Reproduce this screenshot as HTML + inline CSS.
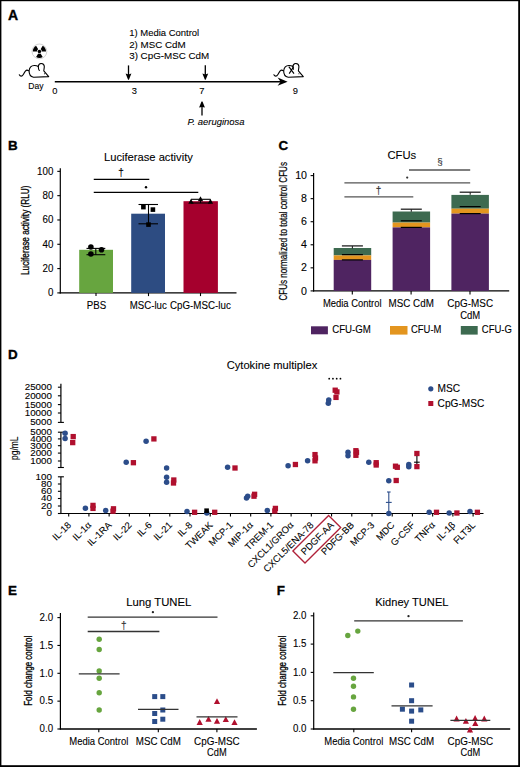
<!DOCTYPE html>
<html><head><meta charset="utf-8"><style>
html,body{margin:0;padding:0;background:#fff;}
svg{display:block;font-family:"Liberation Sans", sans-serif;}

</style></head><body>
<svg width="520" height="767" viewBox="0 0 520 767">
<rect x="0.00" y="0.00" width="520.00" height="767.00" fill="#fff" />
<rect x="0.00" y="0.00" width="1.40" height="767.00" fill="#000" />
<rect x="0.00" y="0.00" width="520.00" height="1.20" fill="#000" />
<rect x="518.20" y="0.00" width="1.80" height="767.00" fill="#000" />
<rect x="0.00" y="765.20" width="520.00" height="1.80" fill="#000" />
<text x="8.00" y="20.00" font-size="14" text-anchor="start" font-weight="bold" stroke="#000" stroke-width="0.35" >A</text>
<circle cx="39.4" cy="51.4" r="7.4" fill="#fff" stroke="#c8c8c8" stroke-width="0.8"/>
<path d="M41.80 51.40 L46.00 51.40 A6.6 6.6 0 0 0 42.70 45.68 L40.60 49.32 A2.4 2.4 0 0 1 41.80 51.40 Z M38.20 49.32 L36.10 45.68 A6.6 6.6 0 0 0 32.80 51.40 L37.00 51.40 A2.4 2.4 0 0 1 38.20 49.32 Z M38.20 53.48 L36.10 57.12 A6.6 6.6 0 0 0 42.70 57.12 L40.60 53.48 A2.4 2.4 0 0 1 38.20 53.48 Z" fill="#000"/>
<circle cx="39.40" cy="51.40" r="1.75" fill="#000"/>
<path d="M19.3 74.7 C20.2 76.5 22 76.8 23.3 74.5 C24.5 72.3 25.5 70 27 70.1 C28 70.2 28.6 70.6 29.1 70.8" fill="none" stroke="#000" stroke-width="1.1" stroke-linecap="round"/><path d="M29.1 70.8 C29.5 67.5 31.5 65.6 34.2 65.5 C36 65.4 37.3 65.9 38.3 66.5 C38.5 64.5 40 63.4 41.3 63.5 C43 63.6 44.3 64.8 44.3 66.6 C44.3 68.3 43.8 69.8 43.8 70.8 L48.7 76.6 L33.6 77.3 C30.8 76.8 29 74.2 29.1 70.8 Z" fill="#fff" stroke="#000" stroke-width="1.1" stroke-linejoin="round"/><path d="M38.3 66.5 C38.3 68.2 38.6 69.6 39.3 70.5" fill="none" stroke="#000" stroke-width="1.1" stroke-linecap="round"/>
<circle cx="44.50" cy="73.70" r="0.55" fill="#000"/>
<text x="28.30" y="89.00" font-size="8.55" text-anchor="start" stroke="#000" stroke-width="0.1" textLength="15.20" lengthAdjust="spacingAndGlyphs" >Day</text>
<line x1="54.80" y1="81.70" x2="281.00" y2="81.70" stroke="#000" stroke-width="1.5" />
<path d="M287.6 81.7 L277.6 77.6 L280.6 81.7 L277.6 85.8 Z" fill="#000"/>
<text x="54.90" y="93.60" font-size="9.6" text-anchor="middle" stroke="#000" stroke-width="0.1" textLength="5.20" lengthAdjust="spacingAndGlyphs" >0</text>
<text x="134.40" y="93.60" font-size="9.6" text-anchor="middle" stroke="#000" stroke-width="0.1" textLength="5.20" lengthAdjust="spacingAndGlyphs" >3</text>
<text x="201.80" y="93.60" font-size="9.6" text-anchor="middle" stroke="#000" stroke-width="0.1" textLength="5.20" lengthAdjust="spacingAndGlyphs" >7</text>
<text x="295.30" y="93.60" font-size="9.6" text-anchor="middle" stroke="#000" stroke-width="0.1" textLength="5.20" lengthAdjust="spacingAndGlyphs" >9</text>
<line x1="128.50" y1="65.40" x2="128.50" y2="76.80" stroke="#000" stroke-width="1.3" />
<path d="M125.60 73.60 L128.10 79.80 L128.90 79.80 L131.40 73.60 L128.50 74.50 Z" fill="#000"/>
<line x1="205.30" y1="65.30" x2="205.30" y2="76.70" stroke="#000" stroke-width="1.3" />
<path d="M202.40 73.50 L204.90 79.70 L205.70 79.70 L208.20 73.50 L205.30 74.40 Z" fill="#000"/>
<line x1="202.00" y1="115.60" x2="202.00" y2="104.40" stroke="#000" stroke-width="1.3" />
<path d="M199.10 107.60 L201.50 101.40 L202.50 101.40 L204.90 107.60 L202.00 107.00 Z" fill="#000"/>
<text x="129.20" y="36.30" font-size="9.9" text-anchor="start" stroke="#000" stroke-width="0.1" textLength="70.00" lengthAdjust="spacingAndGlyphs" >1) Media Control</text>
<text x="129.20" y="47.55" font-size="9.9" text-anchor="start" stroke="#000" stroke-width="0.1" textLength="56.40" lengthAdjust="spacingAndGlyphs" >2) MSC CdM</text>
<text x="129.20" y="58.80" font-size="9.9" text-anchor="start" stroke="#000" stroke-width="0.1" textLength="80.00" lengthAdjust="spacingAndGlyphs" >3) CpG-MSC CdM</text>
<text x="187.50" y="124.50" font-size="9.43" text-anchor="start" stroke="#000" stroke-width="0.1" font-style="italic" textLength="57.00" lengthAdjust="spacingAndGlyphs" >P. aeruginosa</text>
<g transform="translate(254.6 0)"><path d="M19.3 74.7 C20.2 76.5 22 76.8 23.3 74.5 C24.5 72.3 25.5 70 27 70.1 C28 70.2 28.6 70.6 29.1 70.8" fill="none" stroke="#000" stroke-width="1.1" stroke-linecap="round"/><path d="M29.1 70.8 C29.5 67.5 31.5 65.6 34.2 65.5 C36 65.4 37.3 65.9 38.3 66.5 C38.5 64.5 40 63.4 41.3 63.5 C43 63.6 44.3 64.8 44.3 66.6 C44.3 68.3 43.8 69.8 43.8 70.8 L48.7 76.6 L33.6 77.3 C30.8 76.8 29 74.2 29.1 70.8 Z" fill="#fff" stroke="#000" stroke-width="1.1" stroke-linejoin="round"/><path d="M38.3 66.5 C38.3 67.5 38.5 68.5 38.9 69.2" fill="none" stroke="#000" stroke-width="1.1" stroke-linecap="round"/></g>
<path d="M288.8 66.6 L294.0 73.6 M293.6 66.8 L289.2 73.6" stroke="#000" stroke-width="1.15" fill="none"/>
<circle cx="298.90" cy="73.70" r="0.55" fill="#000"/>
<text x="8.00" y="150.30" font-size="13.4" text-anchor="start" font-weight="bold" stroke="#000" stroke-width="0.35" >B</text>
<text x="148.40" y="161.00" font-size="11.7" text-anchor="middle" stroke="#000" stroke-width="0.1" textLength="88.90" lengthAdjust="spacingAndGlyphs" >Luciferase activity</text>
<line x1="60.30" y1="168.20" x2="60.30" y2="293.40" stroke="#000" stroke-width="1.2" />
<line x1="59.70" y1="292.90" x2="236.50" y2="292.90" stroke="#000" stroke-width="1.2" />
<line x1="57.30" y1="292.90" x2="60.30" y2="292.90" stroke="#000" stroke-width="1.1" />
<text x="53.40" y="296.30" font-size="10.4" text-anchor="end" stroke="#000" stroke-width="0.1" textLength="5.43" lengthAdjust="spacingAndGlyphs" >0</text>
<line x1="57.30" y1="268.59" x2="60.30" y2="268.59" stroke="#000" stroke-width="1.1" />
<text x="53.40" y="271.99" font-size="10.4" text-anchor="end" stroke="#000" stroke-width="0.1" textLength="10.86" lengthAdjust="spacingAndGlyphs" >20</text>
<line x1="57.30" y1="244.28" x2="60.30" y2="244.28" stroke="#000" stroke-width="1.1" />
<text x="53.40" y="247.68" font-size="10.4" text-anchor="end" stroke="#000" stroke-width="0.1" textLength="10.86" lengthAdjust="spacingAndGlyphs" >40</text>
<line x1="57.30" y1="219.97" x2="60.30" y2="219.97" stroke="#000" stroke-width="1.1" />
<text x="53.40" y="223.37" font-size="10.4" text-anchor="end" stroke="#000" stroke-width="0.1" textLength="10.86" lengthAdjust="spacingAndGlyphs" >60</text>
<line x1="57.30" y1="195.66" x2="60.30" y2="195.66" stroke="#000" stroke-width="1.1" />
<text x="53.40" y="199.06" font-size="10.4" text-anchor="end" stroke="#000" stroke-width="0.1" textLength="10.86" lengthAdjust="spacingAndGlyphs" >80</text>
<line x1="57.30" y1="171.35" x2="60.30" y2="171.35" stroke="#000" stroke-width="1.1" />
<text x="53.40" y="174.75" font-size="10.4" text-anchor="end" stroke="#000" stroke-width="0.1" textLength="16.29" lengthAdjust="spacingAndGlyphs" >100</text>
<text x="28.90" y="230.30" font-size="10.3" text-anchor="middle" stroke="#000" stroke-width="0.3" textLength="89.40" lengthAdjust="spacingAndGlyphs" transform="rotate(-90 28.90 230.30)" >Luciferase activity (RLU)</text>
<rect x="79.20" y="249.80" width="33.80" height="43.10" fill="#67a53f" />
<rect x="131.20" y="213.70" width="33.80" height="79.20" fill="#2d4c82" />
<rect x="183.50" y="201.20" width="34.40" height="91.70" fill="#a5002d" />
<line x1="96.00" y1="292.90" x2="96.00" y2="296.10" stroke="#000" stroke-width="1.1" />
<line x1="148.50" y1="292.90" x2="148.50" y2="296.10" stroke="#000" stroke-width="1.1" />
<line x1="200.50" y1="292.90" x2="200.50" y2="296.10" stroke="#000" stroke-width="1.1" />
<text x="96.50" y="308.50" font-size="10.1" text-anchor="middle" stroke="#000" stroke-width="0.1" textLength="19.40" lengthAdjust="spacingAndGlyphs" >PBS</text>
<text x="148.30" y="308.50" font-size="10.1" text-anchor="middle" stroke="#000" stroke-width="0.1" textLength="37.00" lengthAdjust="spacingAndGlyphs" >MSC-luc</text>
<text x="200.40" y="308.50" font-size="10.1" text-anchor="middle" stroke="#000" stroke-width="0.1" textLength="60.80" lengthAdjust="spacingAndGlyphs" >CpG-MSC-luc</text>
<line x1="93.75" y1="179.30" x2="149.30" y2="179.30" stroke="#000" stroke-width="1.2" />
<line x1="93.75" y1="192.30" x2="198.30" y2="192.30" stroke="#000" stroke-width="1.2" />
<text x="121.00" y="175.50" font-size="10" text-anchor="middle" stroke="#000" stroke-width="0.1" >†</text>
<circle cx="146.00" cy="187.20" r="1.20" fill="#000"/>
<line x1="95.80" y1="248.40" x2="95.80" y2="254.70" stroke="#000" stroke-width="1.1" />
<line x1="86.50" y1="248.40" x2="105.30" y2="248.40" stroke="#000" stroke-width="1.1" />
<line x1="86.50" y1="254.70" x2="105.30" y2="254.70" stroke="#000" stroke-width="1.1" />
<circle cx="90.90" cy="247.00" r="2.80" fill="#000"/>
<circle cx="90.90" cy="254.00" r="2.80" fill="#000"/>
<circle cx="101.50" cy="249.80" r="2.80" fill="#000"/>
<line x1="148.50" y1="204.50" x2="148.50" y2="223.80" stroke="#000" stroke-width="1.1" />
<line x1="138.50" y1="204.50" x2="158.00" y2="204.50" stroke="#000" stroke-width="1.1" />
<line x1="138.50" y1="223.80" x2="158.00" y2="223.80" stroke="#000" stroke-width="1.1" />
<rect x="141.10" y="204.80" width="4.60" height="4.60" fill="#000" />
<rect x="150.60" y="207.30" width="4.60" height="4.60" fill="#000" />
<rect x="146.20" y="222.30" width="4.60" height="4.60" fill="#000" />
<line x1="200.50" y1="199.30" x2="200.50" y2="203.00" stroke="#000" stroke-width="1.1" />
<line x1="191.00" y1="199.30" x2="210.40" y2="199.30" stroke="#000" stroke-width="1.1" />
<line x1="191.00" y1="203.00" x2="210.40" y2="203.00" stroke="#000" stroke-width="1.1" />
<path d="M188.30 203.80 L191.00 198.80 L193.70 203.80 Z" fill="#000"/>
<path d="M207.70 203.80 L210.40 198.80 L213.10 203.80 Z" fill="#000"/>
<path d="M197.80 201.20 L200.50 196.20 L203.20 201.20 Z" fill="#000"/>
<text x="278.40" y="149.50" font-size="13.4" text-anchor="start" font-weight="bold" stroke="#000" stroke-width="0.35" >C</text>
<text x="401.80" y="158.60" font-size="11.7" text-anchor="middle" stroke="#000" stroke-width="0.1" textLength="28.70" lengthAdjust="spacingAndGlyphs" >CFUs</text>
<line x1="313.60" y1="172.90" x2="313.60" y2="291.40" stroke="#000" stroke-width="1.2" />
<line x1="313.00" y1="290.90" x2="509.20" y2="290.90" stroke="#000" stroke-width="1.2" />
<line x1="310.60" y1="290.90" x2="313.60" y2="290.90" stroke="#000" stroke-width="1.1" />
<text x="307.00" y="294.50" font-size="10.0" text-anchor="end" stroke="#000" stroke-width="0.1" textLength="5.90" lengthAdjust="spacingAndGlyphs" >0</text>
<line x1="310.60" y1="267.84" x2="313.60" y2="267.84" stroke="#000" stroke-width="1.1" />
<text x="307.00" y="271.44" font-size="10.0" text-anchor="end" stroke="#000" stroke-width="0.1" textLength="5.90" lengthAdjust="spacingAndGlyphs" >2</text>
<line x1="310.60" y1="244.78" x2="313.60" y2="244.78" stroke="#000" stroke-width="1.1" />
<text x="307.00" y="248.38" font-size="10.0" text-anchor="end" stroke="#000" stroke-width="0.1" textLength="5.90" lengthAdjust="spacingAndGlyphs" >4</text>
<line x1="310.60" y1="221.72" x2="313.60" y2="221.72" stroke="#000" stroke-width="1.1" />
<text x="307.00" y="225.32" font-size="10.0" text-anchor="end" stroke="#000" stroke-width="0.1" textLength="5.90" lengthAdjust="spacingAndGlyphs" >6</text>
<line x1="310.60" y1="198.66" x2="313.60" y2="198.66" stroke="#000" stroke-width="1.1" />
<text x="307.00" y="202.26" font-size="10.0" text-anchor="end" stroke="#000" stroke-width="0.1" textLength="5.90" lengthAdjust="spacingAndGlyphs" >8</text>
<line x1="310.60" y1="175.60" x2="313.60" y2="175.60" stroke="#000" stroke-width="1.1" />
<text x="307.00" y="179.20" font-size="10.0" text-anchor="end" stroke="#000" stroke-width="0.1" textLength="11.80" lengthAdjust="spacingAndGlyphs" >10</text>
<text x="287.30" y="231.30" font-size="10.0" text-anchor="middle" stroke="#000" stroke-width="0.22" textLength="138.60" lengthAdjust="spacingAndGlyphs" transform="rotate(-90 287.30 231.30)" >CFUs normalized to total control CFUs</text>
<rect x="333.70" y="248.00" width="37.50" height="7.40" fill="#3d6a50" />
<rect x="333.70" y="255.40" width="37.50" height="4.50" fill="#e3951f" />
<rect x="333.70" y="259.90" width="37.50" height="31.00" fill="#4f2461" />
<rect x="392.60" y="211.50" width="37.50" height="11.10" fill="#3d6a50" />
<rect x="392.60" y="222.60" width="37.50" height="4.80" fill="#e3951f" />
<rect x="392.60" y="227.40" width="37.50" height="63.50" fill="#4f2461" />
<rect x="451.40" y="194.90" width="37.50" height="13.80" fill="#3d6a50" />
<rect x="451.40" y="208.70" width="37.50" height="4.90" fill="#e3951f" />
<rect x="451.40" y="213.60" width="37.50" height="77.30" fill="#4f2461" />
<line x1="352.40" y1="245.90" x2="352.40" y2="248.50" stroke="#222" stroke-width="1.1" />
<line x1="341.90" y1="245.90" x2="362.90" y2="245.90" stroke="#222" stroke-width="1.3" />
<line x1="341.90" y1="254.60" x2="362.90" y2="254.60" stroke="#000" stroke-width="1.2" />
<line x1="341.90" y1="259.90" x2="362.90" y2="259.90" stroke="#000" stroke-width="1.2" />
<line x1="411.30" y1="209.20" x2="411.30" y2="211.80" stroke="#222" stroke-width="1.1" />
<line x1="400.80" y1="209.20" x2="421.80" y2="209.20" stroke="#222" stroke-width="1.3" />
<line x1="400.80" y1="220.80" x2="421.80" y2="220.80" stroke="#000" stroke-width="1.2" />
<line x1="400.80" y1="227.40" x2="421.80" y2="227.40" stroke="#000" stroke-width="1.2" />
<line x1="470.20" y1="192.20" x2="470.20" y2="194.80" stroke="#222" stroke-width="1.1" />
<line x1="459.70" y1="192.20" x2="480.70" y2="192.20" stroke="#222" stroke-width="1.3" />
<line x1="459.70" y1="206.60" x2="480.70" y2="206.60" stroke="#000" stroke-width="1.2" />
<line x1="459.70" y1="213.60" x2="480.70" y2="213.60" stroke="#000" stroke-width="1.2" />
<line x1="352.30" y1="290.90" x2="352.30" y2="294.40" stroke="#000" stroke-width="1.1" />
<line x1="411.10" y1="290.90" x2="411.10" y2="294.40" stroke="#000" stroke-width="1.1" />
<line x1="470.00" y1="290.90" x2="470.00" y2="294.40" stroke="#000" stroke-width="1.1" />
<text x="352.20" y="306.80" font-size="10.1" text-anchor="middle" stroke="#000" stroke-width="0.1" textLength="58.60" lengthAdjust="spacingAndGlyphs" >Media Control</text>
<text x="411.20" y="307.00" font-size="10.1" text-anchor="middle" stroke="#000" stroke-width="0.1" textLength="45.20" lengthAdjust="spacingAndGlyphs" >MSC CdM</text>
<text x="470.20" y="307.00" font-size="10.1" text-anchor="middle" stroke="#000" stroke-width="0.1" textLength="45.70" lengthAdjust="spacingAndGlyphs" >CpG-MSC</text>
<text x="470.20" y="318.70" font-size="10.1" text-anchor="middle" stroke="#000" stroke-width="0.1" textLength="20.00" lengthAdjust="spacingAndGlyphs" >CdM</text>
<line x1="344.40" y1="196.90" x2="413.30" y2="196.90" stroke="#555" stroke-width="1.3" />
<line x1="344.40" y1="182.80" x2="470.20" y2="182.80" stroke="#555" stroke-width="1.3" />
<line x1="409.00" y1="170.00" x2="470.20" y2="170.00" stroke="#555" stroke-width="1.3" />
<text x="378.60" y="193.50" font-size="10" text-anchor="middle" stroke="#333" stroke-width="0.1" fill="#333" >†</text>
<circle cx="407.20" cy="177.60" r="1.10" fill="#333"/>
<text x="439.90" y="165.20" font-size="9.8" text-anchor="middle" stroke="#333" stroke-width="0.1" fill="#333" >§</text>
<rect x="311.00" y="326.30" width="16.90" height="8.00" fill="#4f2461" />
<text x="332.20" y="333.30" font-size="10.1" text-anchor="start" stroke="#000" stroke-width="0.1" textLength="38.70" lengthAdjust="spacingAndGlyphs" >CFU-GM</text>
<rect x="390.00" y="326.00" width="17.50" height="8.60" fill="#e3951f" />
<text x="411.00" y="333.30" font-size="10.1" text-anchor="start" stroke="#000" stroke-width="0.1" textLength="30.40" lengthAdjust="spacingAndGlyphs" >CFU-M</text>
<rect x="460.80" y="326.00" width="16.90" height="8.60" fill="#3d6a50" />
<text x="481.80" y="333.30" font-size="10.1" text-anchor="start" stroke="#000" stroke-width="0.1" textLength="30.10" lengthAdjust="spacingAndGlyphs" >CFU-G</text>
<text x="8.00" y="358.80" font-size="13.4" text-anchor="start" font-weight="bold" stroke="#000" stroke-width="0.35" >D</text>
<text x="272.00" y="369.40" font-size="11.7" text-anchor="middle" stroke="#000" stroke-width="0.1" textLength="90.70" lengthAdjust="spacingAndGlyphs" >Cytokine multiplex</text>
<line x1="60.90" y1="383.70" x2="60.90" y2="422.40" stroke="#000" stroke-width="1.2" />
<line x1="57.90" y1="387.20" x2="60.90" y2="387.20" stroke="#000" stroke-width="1.1" />
<text x="52.00" y="390.10" font-size="8.6" text-anchor="end" stroke="#000" stroke-width="0.1" textLength="27.30" lengthAdjust="spacingAndGlyphs" >25000</text>
<line x1="57.90" y1="395.80" x2="60.90" y2="395.80" stroke="#000" stroke-width="1.1" />
<text x="52.00" y="398.70" font-size="8.6" text-anchor="end" stroke="#000" stroke-width="0.1" textLength="27.30" lengthAdjust="spacingAndGlyphs" >20000</text>
<line x1="57.90" y1="404.60" x2="60.90" y2="404.60" stroke="#000" stroke-width="1.1" />
<text x="52.00" y="407.50" font-size="8.6" text-anchor="end" stroke="#000" stroke-width="0.1" textLength="27.30" lengthAdjust="spacingAndGlyphs" >15000</text>
<line x1="57.90" y1="413.00" x2="60.90" y2="413.00" stroke="#000" stroke-width="1.1" />
<text x="52.00" y="415.90" font-size="8.6" text-anchor="end" stroke="#000" stroke-width="0.1" textLength="27.30" lengthAdjust="spacingAndGlyphs" >10000</text>
<line x1="57.90" y1="422.40" x2="60.90" y2="422.40" stroke="#000" stroke-width="1.1" />
<text x="52.00" y="425.30" font-size="8.6" text-anchor="end" stroke="#000" stroke-width="0.1" textLength="21.84" lengthAdjust="spacingAndGlyphs" >5000</text>
<line x1="60.90" y1="422.40" x2="63.90" y2="422.40" stroke="#000" stroke-width="1.1" />
<line x1="60.90" y1="432.20" x2="60.90" y2="467.50" stroke="#000" stroke-width="1.2" />
<line x1="57.90" y1="432.20" x2="60.90" y2="432.20" stroke="#000" stroke-width="1.1" />
<text x="52.00" y="435.10" font-size="8.6" text-anchor="end" stroke="#000" stroke-width="0.1" textLength="21.80" lengthAdjust="spacingAndGlyphs" >5000</text>
<line x1="57.90" y1="438.90" x2="60.90" y2="438.90" stroke="#000" stroke-width="1.1" />
<text x="52.00" y="441.80" font-size="8.6" text-anchor="end" stroke="#000" stroke-width="0.1" textLength="21.80" lengthAdjust="spacingAndGlyphs" >4000</text>
<line x1="57.90" y1="445.70" x2="60.90" y2="445.70" stroke="#000" stroke-width="1.1" />
<text x="52.00" y="448.60" font-size="8.6" text-anchor="end" stroke="#000" stroke-width="0.1" textLength="21.80" lengthAdjust="spacingAndGlyphs" >3000</text>
<line x1="57.90" y1="453.10" x2="60.90" y2="453.10" stroke="#000" stroke-width="1.1" />
<text x="52.00" y="456.00" font-size="8.6" text-anchor="end" stroke="#000" stroke-width="0.1" textLength="21.80" lengthAdjust="spacingAndGlyphs" >2000</text>
<line x1="57.90" y1="461.00" x2="60.90" y2="461.00" stroke="#000" stroke-width="1.1" />
<text x="52.00" y="463.90" font-size="8.6" text-anchor="end" stroke="#000" stroke-width="0.1" textLength="21.80" lengthAdjust="spacingAndGlyphs" >1000</text>
<line x1="60.90" y1="432.20" x2="63.90" y2="432.20" stroke="#000" stroke-width="1.1" />
<line x1="57.90" y1="467.50" x2="63.90" y2="467.50" stroke="#000" stroke-width="1.1" />
<line x1="60.90" y1="476.80" x2="60.90" y2="513.50" stroke="#000" stroke-width="1.2" />
<line x1="57.90" y1="476.80" x2="60.90" y2="476.80" stroke="#000" stroke-width="1.1" />
<text x="52.00" y="479.70" font-size="8.6" text-anchor="end" stroke="#000" stroke-width="0.1" textLength="16.40" lengthAdjust="spacingAndGlyphs" >100</text>
<line x1="57.90" y1="484.00" x2="60.90" y2="484.00" stroke="#000" stroke-width="1.1" />
<text x="52.00" y="486.90" font-size="8.6" text-anchor="end" stroke="#000" stroke-width="0.1" textLength="10.93" lengthAdjust="spacingAndGlyphs" >80</text>
<line x1="57.90" y1="491.30" x2="60.90" y2="491.30" stroke="#000" stroke-width="1.1" />
<text x="52.00" y="494.20" font-size="8.6" text-anchor="end" stroke="#000" stroke-width="0.1" textLength="10.93" lengthAdjust="spacingAndGlyphs" >60</text>
<line x1="57.90" y1="498.50" x2="60.90" y2="498.50" stroke="#000" stroke-width="1.1" />
<text x="52.00" y="501.40" font-size="8.6" text-anchor="end" stroke="#000" stroke-width="0.1" textLength="10.93" lengthAdjust="spacingAndGlyphs" >40</text>
<line x1="57.90" y1="506.00" x2="60.90" y2="506.00" stroke="#000" stroke-width="1.1" />
<text x="52.00" y="508.90" font-size="8.6" text-anchor="end" stroke="#000" stroke-width="0.1" textLength="10.93" lengthAdjust="spacingAndGlyphs" >20</text>
<line x1="57.90" y1="513.50" x2="60.90" y2="513.50" stroke="#000" stroke-width="1.1" />
<text x="52.00" y="516.40" font-size="8.6" text-anchor="end" stroke="#000" stroke-width="0.1" textLength="5.47" lengthAdjust="spacingAndGlyphs" >0</text>
<line x1="60.90" y1="476.80" x2="63.90" y2="476.80" stroke="#000" stroke-width="1.1" />
<line x1="60.30" y1="513.50" x2="483.50" y2="513.50" stroke="#000" stroke-width="1.2" />
<text x="18.00" y="448.20" font-size="10" text-anchor="middle" stroke="#000" stroke-width="0.12" textLength="23.50" lengthAdjust="spacingAndGlyphs" transform="rotate(-90 18.00 448.20)" >pg/mL</text>
<line x1="68.70" y1="513.50" x2="68.70" y2="516.50" stroke="#000" stroke-width="1.1" />
<text x="71.70" y="525.70" font-size="9.5" text-anchor="end" stroke="#000" stroke-width="0.1" transform="rotate(-45 71.70 525.70)" >IL-18</text>
<line x1="88.92" y1="513.50" x2="88.92" y2="516.50" stroke="#000" stroke-width="1.1" />
<text x="91.92" y="525.70" font-size="9.5" text-anchor="end" stroke="#000" stroke-width="0.1" transform="rotate(-45 91.92 525.70)" >IL-1&#945;</text>
<line x1="109.14" y1="513.50" x2="109.14" y2="516.50" stroke="#000" stroke-width="1.1" />
<text x="112.14" y="525.70" font-size="9.5" text-anchor="end" stroke="#000" stroke-width="0.1" transform="rotate(-45 112.14 525.70)" >IL-1RA</text>
<line x1="129.36" y1="513.50" x2="129.36" y2="516.50" stroke="#000" stroke-width="1.1" />
<text x="132.36" y="525.70" font-size="9.5" text-anchor="end" stroke="#000" stroke-width="0.1" transform="rotate(-45 132.36 525.70)" >IL-22</text>
<line x1="149.58" y1="513.50" x2="149.58" y2="516.50" stroke="#000" stroke-width="1.1" />
<text x="152.58" y="525.70" font-size="9.5" text-anchor="end" stroke="#000" stroke-width="0.1" transform="rotate(-45 152.58 525.70)" >IL-6</text>
<line x1="169.80" y1="513.50" x2="169.80" y2="516.50" stroke="#000" stroke-width="1.1" />
<text x="172.80" y="525.70" font-size="9.5" text-anchor="end" stroke="#000" stroke-width="0.1" transform="rotate(-45 172.80 525.70)" >IL-21</text>
<line x1="190.02" y1="513.50" x2="190.02" y2="516.50" stroke="#000" stroke-width="1.1" />
<text x="193.02" y="525.70" font-size="9.5" text-anchor="end" stroke="#000" stroke-width="0.1" transform="rotate(-45 193.02 525.70)" >IL-8</text>
<line x1="210.24" y1="513.50" x2="210.24" y2="516.50" stroke="#000" stroke-width="1.1" />
<text x="213.24" y="525.70" font-size="9.5" text-anchor="end" stroke="#000" stroke-width="0.1" transform="rotate(-45 213.24 525.70)" >TWEAK</text>
<line x1="230.46" y1="513.50" x2="230.46" y2="516.50" stroke="#000" stroke-width="1.1" />
<text x="233.46" y="525.70" font-size="9.5" text-anchor="end" stroke="#000" stroke-width="0.1" transform="rotate(-45 233.46 525.70)" >MCP-1</text>
<line x1="250.68" y1="513.50" x2="250.68" y2="516.50" stroke="#000" stroke-width="1.1" />
<text x="253.68" y="525.70" font-size="9.5" text-anchor="end" stroke="#000" stroke-width="0.1" transform="rotate(-45 253.68 525.70)" >MIP-1&#945;</text>
<line x1="270.90" y1="513.50" x2="270.90" y2="516.50" stroke="#000" stroke-width="1.1" />
<text x="273.90" y="525.70" font-size="9.5" text-anchor="end" stroke="#000" stroke-width="0.1" transform="rotate(-45 273.90 525.70)" >TREM-1</text>
<line x1="291.12" y1="513.50" x2="291.12" y2="516.50" stroke="#000" stroke-width="1.1" />
<text x="294.12" y="525.70" font-size="9.5" text-anchor="end" stroke="#000" stroke-width="0.1" transform="rotate(-45 294.12 525.70)" >CXCL1/GRO&#945;</text>
<line x1="311.34" y1="513.50" x2="311.34" y2="516.50" stroke="#000" stroke-width="1.1" />
<text x="314.34" y="525.70" font-size="9.5" text-anchor="end" stroke="#000" stroke-width="0.1" transform="rotate(-45 314.34 525.70)" >CXCL5/ENA-78</text>
<line x1="331.56" y1="513.50" x2="331.56" y2="516.50" stroke="#000" stroke-width="1.1" />
<text x="334.56" y="525.70" font-size="9.5" text-anchor="end" stroke="#000" stroke-width="0.1" transform="rotate(-45 334.56 525.70)" >PDGF-AA</text>
<line x1="351.78" y1="513.50" x2="351.78" y2="516.50" stroke="#000" stroke-width="1.1" />
<text x="354.78" y="525.70" font-size="9.5" text-anchor="end" stroke="#000" stroke-width="0.1" transform="rotate(-45 354.78 525.70)" >PDFG-BB</text>
<line x1="372.00" y1="513.50" x2="372.00" y2="516.50" stroke="#000" stroke-width="1.1" />
<text x="375.00" y="525.70" font-size="9.5" text-anchor="end" stroke="#000" stroke-width="0.1" transform="rotate(-45 375.00 525.70)" >MCP-3</text>
<line x1="392.22" y1="513.50" x2="392.22" y2="516.50" stroke="#000" stroke-width="1.1" />
<text x="395.22" y="525.70" font-size="9.5" text-anchor="end" stroke="#000" stroke-width="0.1" transform="rotate(-45 395.22 525.70)" >MDC</text>
<line x1="412.44" y1="513.50" x2="412.44" y2="516.50" stroke="#000" stroke-width="1.1" />
<text x="415.44" y="525.70" font-size="9.5" text-anchor="end" stroke="#000" stroke-width="0.1" transform="rotate(-45 415.44 525.70)" >G-CSF</text>
<line x1="432.66" y1="513.50" x2="432.66" y2="516.50" stroke="#000" stroke-width="1.1" />
<text x="435.66" y="525.70" font-size="9.5" text-anchor="end" stroke="#000" stroke-width="0.1" transform="rotate(-45 435.66 525.70)" >TNF&#945;</text>
<line x1="452.88" y1="513.50" x2="452.88" y2="516.50" stroke="#000" stroke-width="1.1" />
<text x="455.88" y="525.70" font-size="9.5" text-anchor="end" stroke="#000" stroke-width="0.1" transform="rotate(-45 455.88 525.70)" >IL-1&#946;</text>
<line x1="473.10" y1="513.50" x2="473.10" y2="516.50" stroke="#000" stroke-width="1.1" />
<text x="476.10" y="525.70" font-size="9.5" text-anchor="end" stroke="#000" stroke-width="0.1" transform="rotate(-45 476.10 525.70)" >FLT3L</text>
<path d="M328.6 515.4 L340.7 527.4 L305.0 563.0 L292.9 550.9 Z" fill="none" stroke="#b0223a" stroke-width="1.35"/>
<rect x="70.55" y="433.95" width="5.30" height="5.30" fill="#b0102e" />
<rect x="70.05" y="439.95" width="5.30" height="5.30" fill="#b0102e" />
<rect x="90.35" y="502.75" width="5.30" height="5.30" fill="#b0102e" />
<rect x="90.35" y="505.75" width="5.30" height="5.30" fill="#b0102e" />
<rect x="110.85" y="506.15" width="5.30" height="5.30" fill="#b0102e" />
<rect x="110.35" y="508.55" width="5.30" height="5.30" fill="#b0102e" />
<rect x="130.75" y="460.05" width="5.30" height="5.30" fill="#b0102e" />
<rect x="151.25" y="436.25" width="5.30" height="5.30" fill="#b0102e" />
<rect x="171.15" y="477.35" width="5.30" height="5.30" fill="#b0102e" />
<rect x="170.85" y="480.35" width="5.30" height="5.30" fill="#b0102e" />
<rect x="191.95" y="509.65" width="5.30" height="5.30" fill="#b0102e" />
<rect x="212.05" y="509.65" width="5.30" height="5.30" fill="#b0102e" />
<rect x="232.35" y="465.35" width="5.30" height="5.30" fill="#b0102e" />
<rect x="251.95" y="491.65" width="5.30" height="5.30" fill="#b0102e" />
<rect x="251.35" y="493.55" width="5.30" height="5.30" fill="#b0102e" />
<rect x="272.75" y="505.75" width="5.30" height="5.30" fill="#b0102e" />
<rect x="272.15" y="508.35" width="5.30" height="5.30" fill="#b0102e" />
<rect x="292.75" y="461.85" width="5.30" height="5.30" fill="#b0102e" />
<rect x="312.35" y="451.95" width="5.30" height="5.30" fill="#b0102e" />
<rect x="312.85" y="455.35" width="5.30" height="5.30" fill="#b0102e" />
<rect x="312.35" y="458.15" width="5.30" height="5.30" fill="#b0102e" />
<rect x="332.55" y="387.55" width="5.30" height="5.30" fill="#b0102e" />
<rect x="334.25" y="389.25" width="5.30" height="5.30" fill="#b0102e" />
<rect x="333.35" y="394.75" width="5.30" height="5.30" fill="#b0102e" />
<rect x="353.25" y="448.05" width="5.30" height="5.30" fill="#b0102e" />
<rect x="353.85" y="449.65" width="5.30" height="5.30" fill="#b0102e" />
<rect x="353.25" y="452.65" width="5.30" height="5.30" fill="#b0102e" />
<rect x="373.55" y="460.05" width="5.30" height="5.30" fill="#b0102e" />
<rect x="373.55" y="462.35" width="5.30" height="5.30" fill="#b0102e" />
<rect x="393.55" y="477.85" width="5.30" height="5.30" fill="#b0102e" />
<rect x="392.85" y="463.55" width="5.30" height="5.30" fill="#b0102e" />
<rect x="394.65" y="464.65" width="5.30" height="5.30" fill="#b0102e" />
<rect x="414.25" y="450.85" width="5.30" height="5.30" fill="#b0102e" />
<rect x="414.25" y="463.95" width="5.30" height="5.30" fill="#b0102e" />
<rect x="433.85" y="509.65" width="5.30" height="5.30" fill="#b0102e" />
<rect x="454.25" y="510.35" width="5.30" height="5.30" fill="#b0102e" />
<rect x="474.75" y="509.65" width="5.30" height="5.30" fill="#b0102e" />
<circle cx="65.10" cy="433.20" r="2.75" fill="#2c4d8a"/>
<circle cx="65.10" cy="438.50" r="2.75" fill="#2c4d8a"/>
<circle cx="85.40" cy="508.20" r="2.75" fill="#2c4d8a"/>
<circle cx="105.70" cy="510.50" r="2.75" fill="#2c4d8a"/>
<circle cx="126.20" cy="462.20" r="2.75" fill="#2c4d8a"/>
<circle cx="146.10" cy="441.20" r="2.75" fill="#2c4d8a"/>
<circle cx="166.60" cy="468.00" r="2.75" fill="#2c4d8a"/>
<circle cx="166.60" cy="477.20" r="2.75" fill="#2c4d8a"/>
<circle cx="166.60" cy="482.30" r="2.75" fill="#2c4d8a"/>
<circle cx="187.00" cy="511.60" r="2.75" fill="#2c4d8a"/>
<circle cx="206.80" cy="513.00" r="2.75" fill="#2c4d8a"/>
<circle cx="227.60" cy="467.30" r="2.75" fill="#2c4d8a"/>
<circle cx="246.50" cy="498.00" r="2.75" fill="#2c4d8a"/>
<circle cx="247.70" cy="496.20" r="2.75" fill="#2c4d8a"/>
<circle cx="267.30" cy="510.50" r="2.75" fill="#2c4d8a"/>
<circle cx="288.10" cy="465.70" r="2.75" fill="#2c4d8a"/>
<circle cx="307.60" cy="460.80" r="2.75" fill="#2c4d8a"/>
<circle cx="328.75" cy="400.00" r="2.75" fill="#2c4d8a"/>
<circle cx="328.30" cy="403.20" r="2.75" fill="#2c4d8a"/>
<circle cx="348.00" cy="452.30" r="2.75" fill="#2c4d8a"/>
<circle cx="348.00" cy="455.80" r="2.75" fill="#2c4d8a"/>
<circle cx="368.80" cy="462.20" r="2.75" fill="#2c4d8a"/>
<circle cx="388.80" cy="480.70" r="2.75" fill="#2c4d8a"/>
<circle cx="388.80" cy="513.50" r="2.75" fill="#2c4d8a"/>
<circle cx="408.80" cy="464.50" r="2.75" fill="#2c4d8a"/>
<circle cx="408.80" cy="466.80" r="2.75" fill="#2c4d8a"/>
<circle cx="429.20" cy="512.30" r="2.75" fill="#2c4d8a"/>
<circle cx="449.20" cy="513.00" r="2.75" fill="#2c4d8a"/>
<circle cx="470.00" cy="511.60" r="2.75" fill="#2c4d8a"/>
<rect x="204.30" y="508.40" width="4.60" height="4.60" fill="#000" />
<line x1="388.80" y1="492.00" x2="388.80" y2="513.00" stroke="#2c4d8a" stroke-width="1.1" />
<line x1="387.00" y1="492.00" x2="390.60" y2="492.00" stroke="#2c4d8a" stroke-width="1.1" />
<line x1="385.90" y1="502.40" x2="391.70" y2="502.40" stroke="#2c4d8a" stroke-width="1.1" />
<line x1="416.90" y1="456.00" x2="416.90" y2="464.00" stroke="#000" stroke-width="1.1" />
<line x1="414.10" y1="462.20" x2="419.70" y2="462.20" stroke="#000" stroke-width="1.1" />
<circle cx="329.20" cy="378.70" r="0.90" fill="#000"/>
<circle cx="332.95" cy="378.70" r="0.90" fill="#000"/>
<circle cx="336.70" cy="378.70" r="0.90" fill="#000"/>
<circle cx="340.45" cy="378.70" r="0.90" fill="#000"/>
<circle cx="430.80" cy="388.80" r="2.60" fill="#2c4d8a"/>
<text x="437.60" y="392.00" font-size="10.4" text-anchor="start" stroke="#000" stroke-width="0.1" textLength="22.60" lengthAdjust="spacingAndGlyphs" >MSC</text>
<rect x="428.30" y="401.00" width="5.00" height="5.00" fill="#b0102e" />
<text x="437.60" y="406.50" font-size="10.4" text-anchor="start" stroke="#000" stroke-width="0.1" textLength="46.80" lengthAdjust="spacingAndGlyphs" >CpG-MSC</text>
<text x="8.00" y="595.30" font-size="13.4" text-anchor="start" font-weight="bold" stroke="#000" stroke-width="0.35" >E</text>
<text x="158.80" y="606.00" font-size="11.7" text-anchor="middle" stroke="#000" stroke-width="0.1" textLength="65.20" lengthAdjust="spacingAndGlyphs" >Lung TUNEL</text>
<line x1="60.40" y1="613.00" x2="60.40" y2="729.50" stroke="#000" stroke-width="1.2" />
<line x1="59.80" y1="729.00" x2="256.90" y2="729.00" stroke="#000" stroke-width="1.4" />
<line x1="57.40" y1="729.00" x2="60.40" y2="729.00" stroke="#000" stroke-width="1.1" />
<text x="53.10" y="732.30" font-size="10" text-anchor="end" stroke="#000" stroke-width="0.1" textLength="13.50" lengthAdjust="spacingAndGlyphs" >0.0</text>
<line x1="57.40" y1="701.15" x2="60.40" y2="701.15" stroke="#000" stroke-width="1.1" />
<text x="53.10" y="704.45" font-size="10" text-anchor="end" stroke="#000" stroke-width="0.1" textLength="13.50" lengthAdjust="spacingAndGlyphs" >0.5</text>
<line x1="57.40" y1="673.30" x2="60.40" y2="673.30" stroke="#000" stroke-width="1.1" />
<text x="53.10" y="676.60" font-size="10" text-anchor="end" stroke="#000" stroke-width="0.1" textLength="13.50" lengthAdjust="spacingAndGlyphs" >1.0</text>
<line x1="57.40" y1="645.45" x2="60.40" y2="645.45" stroke="#000" stroke-width="1.1" />
<text x="53.10" y="648.75" font-size="10" text-anchor="end" stroke="#000" stroke-width="0.1" textLength="13.50" lengthAdjust="spacingAndGlyphs" >1.5</text>
<line x1="57.40" y1="617.60" x2="60.40" y2="617.60" stroke="#000" stroke-width="1.1" />
<text x="53.10" y="620.90" font-size="10" text-anchor="end" stroke="#000" stroke-width="0.1" textLength="13.50" lengthAdjust="spacingAndGlyphs" >2.0</text>
<text x="32.30" y="670.80" font-size="10.0" text-anchor="middle" stroke="#000" stroke-width="0.3" textLength="70.00" lengthAdjust="spacingAndGlyphs" transform="rotate(-90 32.30 670.80)" >Fold change control</text>
<line x1="98.80" y1="729.00" x2="98.80" y2="732.20" stroke="#000" stroke-width="1.1" />
<line x1="158.30" y1="729.00" x2="158.30" y2="732.20" stroke="#000" stroke-width="1.1" />
<line x1="216.90" y1="729.00" x2="216.90" y2="732.20" stroke="#000" stroke-width="1.1" />
<text x="98.80" y="744.80" font-size="10.1" text-anchor="middle" stroke="#000" stroke-width="0.1" textLength="59.00" lengthAdjust="spacingAndGlyphs" >Media Control</text>
<text x="158.30" y="745.20" font-size="10.1" text-anchor="middle" stroke="#000" stroke-width="0.1" textLength="45.00" lengthAdjust="spacingAndGlyphs" >MSC CdM</text>
<text x="216.90" y="745.20" font-size="10.1" text-anchor="middle" stroke="#000" stroke-width="0.1" textLength="45.70" lengthAdjust="spacingAndGlyphs" >CpG-MSC</text>
<text x="216.90" y="756.40" font-size="10.1" text-anchor="middle" stroke="#000" stroke-width="0.1" textLength="19.60" lengthAdjust="spacingAndGlyphs" >CdM</text>
<circle cx="99.20" cy="639.30" r="2.70" fill="#67a53f"/>
<circle cx="99.20" cy="649.50" r="2.70" fill="#67a53f"/>
<circle cx="99.20" cy="671.00" r="2.70" fill="#67a53f"/>
<circle cx="99.20" cy="678.30" r="2.70" fill="#67a53f"/>
<circle cx="99.20" cy="692.70" r="2.70" fill="#67a53f"/>
<circle cx="99.20" cy="710.00" r="2.70" fill="#67a53f"/>
<rect x="152.20" y="694.10" width="5.00" height="5.00" fill="#2b4d8a" />
<rect x="160.30" y="694.10" width="5.00" height="5.00" fill="#2b4d8a" />
<rect x="160.30" y="707.50" width="5.00" height="5.00" fill="#2b4d8a" />
<rect x="152.20" y="711.00" width="5.00" height="5.00" fill="#2b4d8a" />
<rect x="152.20" y="719.00" width="5.00" height="5.00" fill="#2b4d8a" />
<rect x="160.30" y="716.70" width="5.00" height="5.00" fill="#2b4d8a" />
<path d="M213.90 704.10 L217.00 698.30 L220.10 704.10 Z" fill="#b0102e"/>
<path d="M196.60 724.90 L199.70 719.10 L202.80 724.90 Z" fill="#b0102e"/>
<path d="M205.40 721.70 L208.50 715.90 L211.60 721.70 Z" fill="#b0102e"/>
<path d="M213.90 723.70 L217.00 717.90 L220.10 723.70 Z" fill="#b0102e"/>
<path d="M222.70 722.10 L225.80 716.30 L228.90 722.10 Z" fill="#b0102e"/>
<path d="M231.40 725.10 L234.50 719.30 L237.60 725.10 Z" fill="#b0102e"/>
<line x1="78.80" y1="673.80" x2="119.60" y2="673.80" stroke="#333" stroke-width="1.3" />
<line x1="138.00" y1="709.30" x2="178.50" y2="709.30" stroke="#333" stroke-width="1.3" />
<line x1="196.50" y1="716.90" x2="237.50" y2="716.90" stroke="#333" stroke-width="1.3" />
<line x1="87.70" y1="617.10" x2="217.50" y2="617.10" stroke="#333" stroke-width="1.3" />
<circle cx="152.90" cy="612.20" r="1.15" fill="#222"/>
<line x1="87.70" y1="631.50" x2="159.40" y2="631.50" stroke="#333" stroke-width="1.3" />
<text x="123.80" y="628.60" font-size="10" text-anchor="middle" stroke="#333" stroke-width="0.1" fill="#333" >†</text>
<text x="276.80" y="595.30" font-size="13.4" text-anchor="start" font-weight="bold" stroke="#000" stroke-width="0.35" >F</text>
<text x="411.85" y="606.00" font-size="11.7" text-anchor="middle" stroke="#000" stroke-width="0.1" textLength="73.30" lengthAdjust="spacingAndGlyphs" >Kidney TUNEL</text>
<line x1="313.70" y1="612.40" x2="313.70" y2="729.50" stroke="#000" stroke-width="1.2" />
<line x1="313.10" y1="729.00" x2="510.20" y2="729.00" stroke="#000" stroke-width="1.4" />
<line x1="310.70" y1="729.00" x2="313.70" y2="729.00" stroke="#000" stroke-width="1.1" />
<text x="306.40" y="732.30" font-size="10" text-anchor="end" stroke="#000" stroke-width="0.1" textLength="13.50" lengthAdjust="spacingAndGlyphs" >0.0</text>
<line x1="310.70" y1="700.70" x2="313.70" y2="700.70" stroke="#000" stroke-width="1.1" />
<text x="306.40" y="704.00" font-size="10" text-anchor="end" stroke="#000" stroke-width="0.1" textLength="13.50" lengthAdjust="spacingAndGlyphs" >0.5</text>
<line x1="310.70" y1="672.40" x2="313.70" y2="672.40" stroke="#000" stroke-width="1.1" />
<text x="306.40" y="675.70" font-size="10" text-anchor="end" stroke="#000" stroke-width="0.1" textLength="13.50" lengthAdjust="spacingAndGlyphs" >1.0</text>
<line x1="310.70" y1="644.10" x2="313.70" y2="644.10" stroke="#000" stroke-width="1.1" />
<text x="306.40" y="647.40" font-size="10" text-anchor="end" stroke="#000" stroke-width="0.1" textLength="13.50" lengthAdjust="spacingAndGlyphs" >1.5</text>
<line x1="310.70" y1="615.80" x2="313.70" y2="615.80" stroke="#000" stroke-width="1.1" />
<text x="306.40" y="619.10" font-size="10" text-anchor="end" stroke="#000" stroke-width="0.1" textLength="13.50" lengthAdjust="spacingAndGlyphs" >2.0</text>
<text x="285.60" y="670.80" font-size="10.0" text-anchor="middle" stroke="#000" stroke-width="0.3" textLength="70.00" lengthAdjust="spacingAndGlyphs" transform="rotate(-90 285.60 670.80)" >Fold change control</text>
<line x1="353.80" y1="729.00" x2="353.80" y2="732.20" stroke="#000" stroke-width="1.1" />
<line x1="411.60" y1="729.00" x2="411.60" y2="732.20" stroke="#000" stroke-width="1.1" />
<line x1="470.40" y1="729.00" x2="470.40" y2="732.20" stroke="#000" stroke-width="1.1" />
<text x="353.80" y="744.80" font-size="10.1" text-anchor="middle" stroke="#000" stroke-width="0.1" textLength="59.00" lengthAdjust="spacingAndGlyphs" >Media Control</text>
<text x="411.60" y="745.20" font-size="10.1" text-anchor="middle" stroke="#000" stroke-width="0.1" textLength="45.00" lengthAdjust="spacingAndGlyphs" >MSC CdM</text>
<text x="470.40" y="745.20" font-size="10.1" text-anchor="middle" stroke="#000" stroke-width="0.1" textLength="45.70" lengthAdjust="spacingAndGlyphs" >CpG-MSC</text>
<text x="470.40" y="756.40" font-size="10.1" text-anchor="middle" stroke="#000" stroke-width="0.1" textLength="19.60" lengthAdjust="spacingAndGlyphs" >CdM</text>
<circle cx="347.80" cy="635.50" r="2.70" fill="#67a53f"/>
<circle cx="357.80" cy="631.10" r="2.70" fill="#67a53f"/>
<circle cx="353.50" cy="678.30" r="2.70" fill="#67a53f"/>
<circle cx="353.50" cy="686.20" r="2.70" fill="#67a53f"/>
<circle cx="353.50" cy="696.90" r="2.70" fill="#67a53f"/>
<circle cx="353.50" cy="709.20" r="2.70" fill="#67a53f"/>
<rect x="409.10" y="682.50" width="5.00" height="5.00" fill="#2b4d8a" />
<rect x="409.10" y="698.20" width="5.00" height="5.00" fill="#2b4d8a" />
<rect x="399.90" y="706.70" width="5.00" height="5.00" fill="#2b4d8a" />
<rect x="409.10" y="708.60" width="5.00" height="5.00" fill="#2b4d8a" />
<rect x="418.30" y="707.40" width="5.00" height="5.00" fill="#2b4d8a" />
<rect x="409.10" y="718.70" width="5.00" height="5.00" fill="#2b4d8a" />
<path d="M453.50 721.40 L456.60 715.60 L459.70 721.40 Z" fill="#b0102e"/>
<path d="M462.80 723.70 L465.90 717.90 L469.00 723.70 Z" fill="#b0102e"/>
<path d="M472.00 720.90 L475.10 715.10 L478.20 720.90 Z" fill="#b0102e"/>
<path d="M472.20 726.00 L475.30 720.20 L478.40 726.00 Z" fill="#b0102e"/>
<path d="M481.20 721.40 L484.30 715.60 L487.40 721.40 Z" fill="#b0102e"/>
<path d="M466.90 732.40 L470.00 726.60 L473.10 732.40 Z" fill="#b0102e"/>
<line x1="333.30" y1="672.60" x2="373.80" y2="672.60" stroke="#333" stroke-width="1.3" />
<line x1="391.50" y1="705.90" x2="432.60" y2="705.90" stroke="#333" stroke-width="1.3" />
<line x1="450.40" y1="720.40" x2="490.30" y2="720.40" stroke="#333" stroke-width="1.3" />
<line x1="354.20" y1="620.90" x2="462.90" y2="620.90" stroke="#333" stroke-width="1.3" />
<circle cx="408.50" cy="616.20" r="1.15" fill="#222"/>
</svg>
</body></html>
